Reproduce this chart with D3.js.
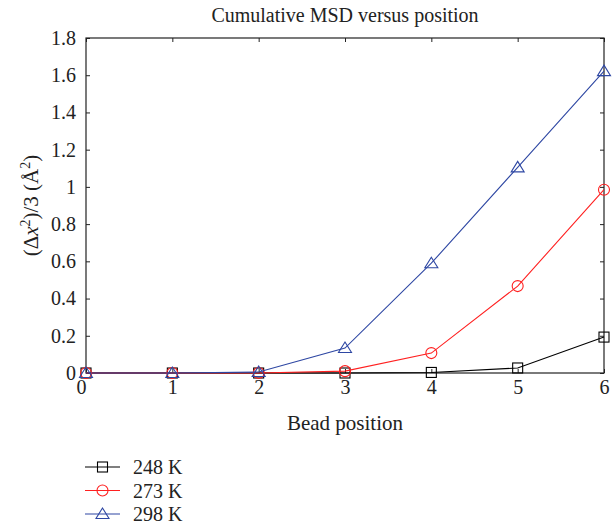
<html>
<head>
<meta charset="utf-8">
<style>
  body {margin: 0; background: #fff;}
  svg text {font-family: "Liberation Serif", "DejaVu Serif", serif;}
  .tick text {font-size: 20px; fill: #222;}
</style>
</head>
<body>
<svg></svg>
<script src="https://d3js.org/d3.v7.min.js"></script>
<script>
let width = 613, height = 531;
let margin = {left: 86, right: 9, top: 38, bottom: 158};

// data
const positions = [0, 1, 2, 3, 4, 5, 6];
const series248 = [0, 0, 0, 0, 0.003, 0.027, 0.193];
const series273 = [0, 0, 0, 0.01, 0.107, 0.467, 0.985];
const series298 = [0, 0, 0.005, 0.134, 0.59, 1.105, 1.622];
const seriesNames = ["248 K", "273 K", "298 K"];
const xTicks = [0, 1, 2, 3, 4, 5, 6];
const yTicks = [0, 0.2, 0.4, 0.6, 0.8, 1, 1.2, 1.4, 1.6, 1.8];

const series = [
  {name: seriesNames[0], values: series248, color: "#000000", marker: "square"},
  {name: seriesNames[1], values: series273, color: "#ff2020", marker: "circle"},
  {name: seriesNames[2], values: series298, color: "#2e47a3", marker: "triangle"}
];

let svg = d3.select("svg").attr("width", width).attr("height", height);

let x = d3.scaleLinear().domain([0, 6]).range([margin.left, width - margin.right]);
let y = d3.scaleLinear().domain([0, 1.8]).range([height - margin.bottom, margin.top]);

let x0 = x(0), x1 = x(6), y0 = y(0), y1 = y(1.8);

// axes with inward ticks
svg.append("g").attr("transform", `translate(0,${y0})`)
  .call(d3.axisBottom(x).tickValues(xTicks).tickSize(-4).tickPadding(7).tickFormat(d3.format("d")))
  .call(g => g.select(".domain").remove())
  .call(g => g.selectAll(".tick text").filter(d => d === 0).attr("dx", -5));
svg.append("g").attr("transform", `translate(0,${y1})`)
  .call(d3.axisTop(x).tickValues(xTicks).tickSize(-4).tickFormat(""))
  .call(g => g.select(".domain").remove());
svg.append("g").attr("transform", `translate(${x0},0)`)
  .call(d3.axisLeft(y).tickValues(yTicks).tickSize(-4).tickPadding(10).tickFormat(d => d3.format("")(+d.toFixed(1))))
  .call(g => g.select(".domain").remove());
svg.append("g").attr("transform", `translate(${x1},0)`)
  .call(d3.axisRight(y).tickValues(yTicks).tickSize(-4).tickFormat(""))
  .call(g => g.select(".domain").remove());

svg.selectAll(".tick line").attr("stroke", "#222");

svg.append("rect").attr("x", x0).attr("y", y1).attr("width", x1 - x0).attr("height", y0 - y1)
  .attr("fill", "none").attr("stroke", "#222").attr("stroke-width", 1.2);

let line = d3.line().x((d, i) => x(positions[i])).y(d => y(d));

function drawMarker(g, type, color, cx, cy) {
  if (type === "square") {
    g.append("rect").attr("x", cx - 5).attr("y", cy - 5).attr("width", 10).attr("height", 10)
      .attr("fill", "none").attr("stroke", color).attr("stroke-width", 1.1);
  } else if (type === "circle") {
    g.append("circle").attr("cx", cx).attr("cy", cy).attr("r", 5.5)
      .attr("fill", "none").attr("stroke", color).attr("stroke-width", 1.1);
  } else {
    g.append("path").attr("d", `M${cx},${cy - 6}L${cx + 6.5},${cy + 4.5}L${cx - 6.5},${cy + 4.5}Z`)
      .attr("fill", "none").attr("stroke", color).attr("stroke-width", 1.1);
  }
}

series.forEach(s => {
  let g = svg.append("g");
  g.append("path").datum(s.values).attr("d", line)
    .attr("fill", "none").attr("stroke", s.color).attr("stroke-width", 1.1);
  s.values.forEach((v, i) => drawMarker(g, s.marker, s.color, x(positions[i]), y(v)));
});

// title and labels
svg.append("text").attr("x", (x0 + x1) / 2).attr("y", 22).attr("text-anchor", "middle")
  .attr("font-size", 20).attr("fill", "#222").text("Cumulative MSD versus position");
svg.append("text").attr("x", (x0 + x1) / 2).attr("y", 430).attr("text-anchor", "middle")
  .attr("font-size", 21).attr("fill", "#222").text("Bead position");

let yl = svg.append("text").attr("transform", `translate(38,${(y0 + y1) / 2}) rotate(-90)`)
  .attr("text-anchor", "middle").attr("font-size", 21).attr("fill", "#222");
yl.append("tspan").text("(Δ");
yl.append("tspan").attr("font-style", "italic").text("x");
yl.append("tspan").attr("font-size", 14).attr("dy", -8).text("2");
yl.append("tspan").attr("dy", 8).text(")/3 (Å");
yl.append("tspan").attr("font-size", 14).attr("dy", -8).text("2");
yl.append("tspan").attr("dy", 8).text(")");

// legend
let legend = svg.append("g");
series.forEach((s, i) => {
  let ly = 467 + i * 23.5;
  legend.append("line").attr("x1", 85).attr("x2", 120).attr("y1", ly).attr("y2", ly)
    .attr("stroke", s.color).attr("stroke-width", 1.1);
  drawMarker(legend, s.marker, s.color, 102.5, ly);
  legend.append("text").attr("x", 133).attr("y", ly + 7).attr("font-size", 20)
    .attr("fill", "#222").text(s.name);
});
</script>
</body>
</html>
